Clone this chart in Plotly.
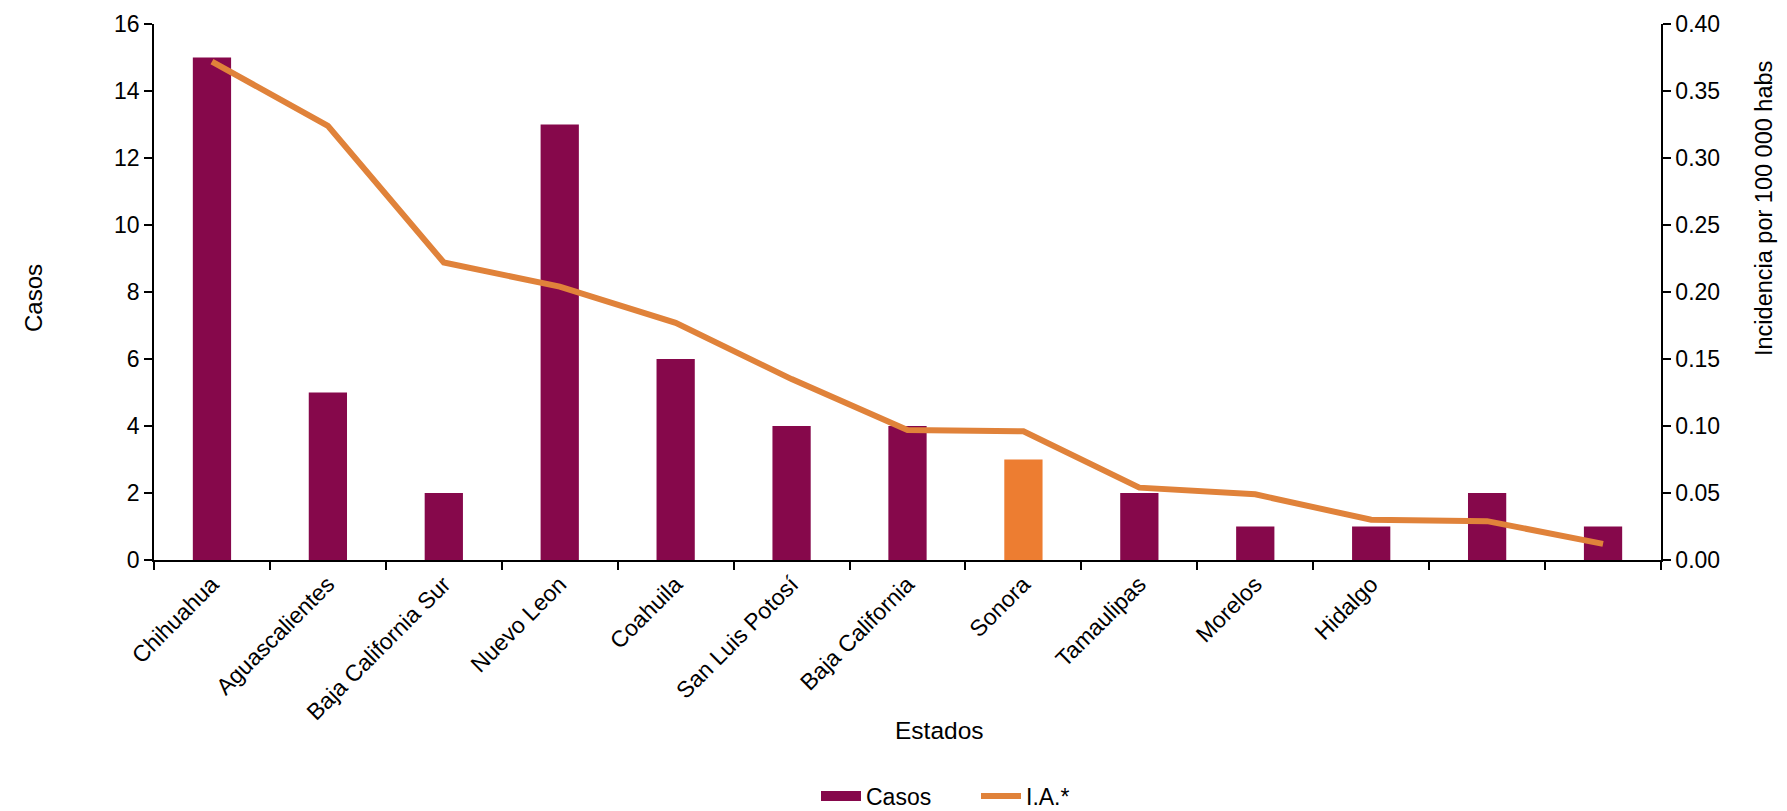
import plotly.graph_objects as go

estados = ["Chihuahua", "Aguascalientes", "Baja California Sur", "Nuevo Leon", "Coahuila",
           "San Luis Potosí", "Baja California", "Sonora", "Tamaulipas", "Morelos", "Hidalgo", "", ""]
casos = [15, 5, 2, 13, 6, 4, 4, 3, 2, 1, 1, 2, 1]
incidencia = [0.372, 0.324, 0.222, 0.204, 0.177, 0.135, 0.097, 0.096, 0.054, 0.049, 0.030, 0.029, 0.012]
bar_colors = ["#86084B"] * 7 + ["#ED7D31"] + ["#86084B"] * 5

x = list(range(len(estados)))
font = "Liberation Sans, Arial, sans-serif"

L, R, T, B = 146, 134, 16, 259
W, H = 1787, 811
pw, ph = W - L - R, H - T - B

fig = go.Figure()
fig.add_trace(go.Bar(x=x, y=casos, name="Casos", marker=dict(color=bar_colors, line=dict(width=0)),
                     width=0.33, showlegend=False))
# legend proxy for bars (uniform maroon, wide rectangle like the reference)
fig.add_trace(go.Scatter(x=[None], y=[None], name="Casos", mode="lines",
                         line=dict(color="#86084B", width=14)))
fig.add_trace(go.Scatter(x=x, y=incidencia, name="I.A.*", mode="lines", yaxis="y2",
                         line=dict(color="#E0823A", width=6)))

tick_style = dict(ticks="outside", ticklen=8, tickcolor="black", tickwidth=1.5, automargin=False,
                  showline=True, linecolor="black", linewidth=1.5, showgrid=False, zeroline=False)

fig.update_layout(
    width=W, height=H,
    paper_bgcolor="white", plot_bgcolor="white",
    margin=dict(l=L, r=R, t=T, b=B, autoexpand=False),
    font=dict(family=font, size=23, color="black"),
    xaxis=dict(
        range=[-0.5, 12.5], tickvals=x, ticktext=estados, tickangle=-45, automargin=False,
        ticks="", showline=True, linecolor="black", linewidth=1.5, showgrid=False, zeroline=False,
        minor=dict(tickvals=[i - 0.5 for i in range(14)], ticks="outside", ticklen=8,
                   tickcolor="black", tickwidth=1.5, showgrid=False),
        tickfont=dict(size=23),
    ),
    yaxis=dict(range=[0, 16], dtick=2, **tick_style),
    yaxis2=dict(range=[0, 0.40], dtick=0.05, tickformat=".2f", overlaying="y", side="right",
                **tick_style),
    legend=dict(orientation="h", xref="container", yref="container",
                x=968 / W, xanchor="center", y=1 - 788 / H, yanchor="middle",
                font=dict(size=23), traceorder="normal", itemwidth=40, entrywidth=105),
    annotations=[
        dict(text="Estados", xref="paper", yref="paper", x=(931 - L) / pw, y=-(722 - T - ph) / ph,
             showarrow=False, font=dict(size=24.5), xanchor="center", yanchor="middle"),
        dict(text="Casos", xref="paper", yref="paper", x=-(L - 25) / pw, y=(H - B - 290) / ph,
             showarrow=False, font=dict(size=24), textangle=-90, xanchor="center", yanchor="middle"),
        dict(text="Incidencia por 100 000 habs", xref="paper", yref="paper",
             x=1 + (1756 - (L + pw)) / pw, y=(H - B - 201) / ph,
             showarrow=False, font=dict(size=23.5), textangle=-90, xanchor="center", yanchor="middle"),
    ],
)

fig.write_html("out.html")
